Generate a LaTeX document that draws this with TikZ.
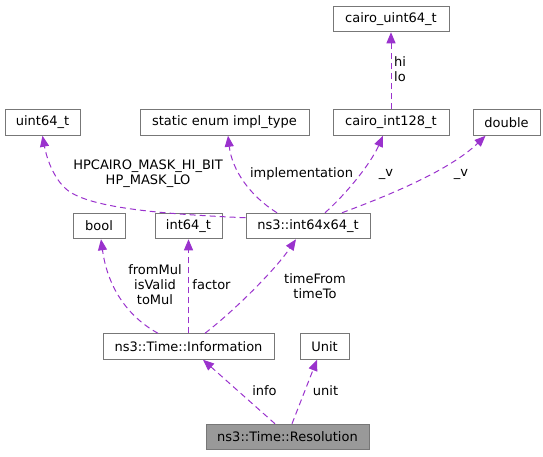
\documentclass[tikz,border=0pt]{standalone}
\usepackage{fontspec}
\setmainfont{DejaVu Sans}
\usetikzlibrary{arrows.meta}
\definecolor{edgec}{HTML}{9A32CD}
\definecolor{boxc}{HTML}{777777}
\definecolor{rootc}{HTML}{999999}
\begin{document}
\begin{tikzpicture}[x=1pt,y=-1pt,
  box/.style={draw=boxc, line width=1pt, fill=white, minimum height=25.5pt, inner sep=0pt, font=\fontsize{13}{15}\selectfont, text=black},
  rootbox/.style={box, fill=rootc},
  dep/.style={draw=edgec, line width=1pt, dash pattern=on 6pt off 4pt, -{Triangle[length=11pt,width=9pt]}},
  lbl/.style={font=\fontsize{13}{15}\selectfont, align=center, inner sep=0pt, text=black},
  lbll/.style={lbl, align=left, anchor=west}]
\useasboundingbox (0,0) rectangle (543,456);
% nodes
\node[box, minimum width=116pt] (cu64) at (391,19) {cairo\_uint64\_t};
\node[box, minimum width=75pt] (u64) at (42.5,122.5) {uint64\_t};
\node[box, minimum width=169pt] (impl) at (224.5,122.5) {static enum impl\_type};
\node[box, minimum width=116pt] (i128) at (391,122.5) {cairo\_int128\_t};
\node[box, minimum width=67pt] (dbl) at (506.5,122.5) {double};
\node[box, minimum width=52pt] (bool) at (99,226) {bool};
\node[box, minimum width=67pt] (i64) at (188.5,226) {int64\_t};
\node[box, minimum width=124pt] (i64x) at (308,226) {ns3::int64x64\_t};
\node[box, minimum width=171pt] (info) at (188.5,346.5) {ns3::Time::Information};
\node[box, minimum width=49pt] (unit) at (324.5,346.5) {Unit};
\node[rootbox, minimum width=163pt] (res) at (287.5,437) {ns3::Time::Resolution};
% edges
\draw[dep] (i128.north) -- (cu64.south);
\node[lbll] (lhilo) at (394,69.5) {hi\\lo};
\draw[dep] ([yshift=-5pt]i64x.north west) .. controls (160,214) and (95,208) .. (70,192) .. controls (55,182) and (47,160) .. (u64.south);
\node[lbl] (lhp) at (148,174) {HPCAIRO\_MASK\_HI\_BIT\\HP\_MASK\_LO};
\draw[dep] ([xshift=-31pt]i64x.north) .. controls (250,196) and (232,170) .. ([xshift=3.5pt]impl.south);
\node[lbl] (limpl) at (301.5,174) {implementation};
\draw[dep] ([xshift=17pt]i64x.north) .. controls (345,195) and (370,165) .. ([xshift=-8pt]i128.south);
\node[lbl] (lv1) at (386,174) {\_v};
\draw[dep] ([xshift=34pt]i64x.north) .. controls (390,195) and (450,170) .. ([xshift=-21pt]dbl.south);
\node[lbl] (lv2) at (461,174) {\_v};
\draw[dep] ([xshift=-30.5pt]info.north) .. controls (130,318) and (108,290) .. ([xshift=2pt]bool.south);
\node[lbl] (lbool) at (155,285) {fromMul\\isValid\\toMul};
\draw[dep] (info.north) -- (i64.south);
\node[lbl] (lfac) at (211.5,285) {factor};
\draw[dep] ([xshift=16.5pt]info.north) .. controls (235,310) and (275,270) .. ([xshift=-12pt]i64x.south);
\node[lbl] (ltime) at (315,286) {timeFrom\\timeTo};
\draw[dep] ([xshift=-12.5pt]res.north) -- ([xshift=14.5pt]info.south);
\node[lbl] (linfo) at (264.5,391) {info};
\draw[dep] ([xshift=4.5pt]res.north) -- ([xshift=-7.5pt]unit.south);
\node[lbl] (lunit) at (325.5,391) {unit};
\end{tikzpicture}
\end{document}
